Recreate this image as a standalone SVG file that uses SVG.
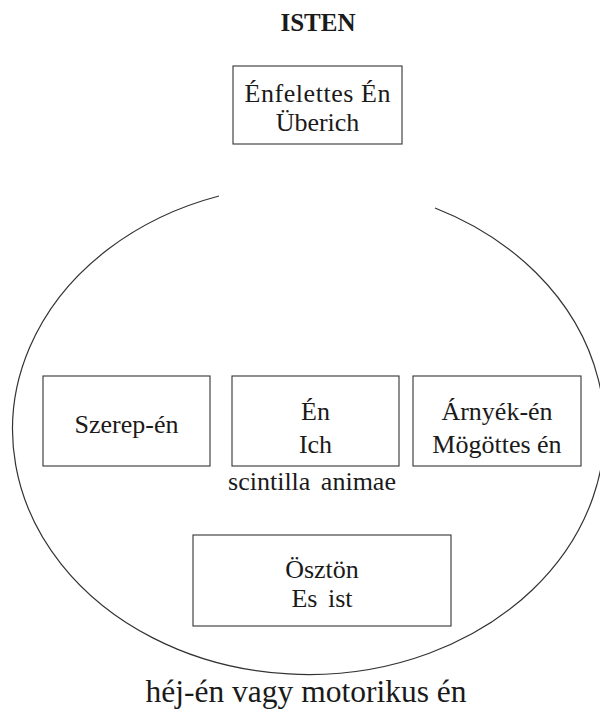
<svg xmlns="http://www.w3.org/2000/svg" width="600" height="716" viewBox="0 0 600 716">
<style>
text{font-family:"Liberation Serif","Times New Roman",serif;fill:#1a1a1a;text-anchor:middle}
.t{font-size:26px}
.box{fill:none;stroke:#333;stroke-width:1.1}
.title{font-size:25px;font-weight:bold}
.big{font-size:31.5px}
</style>
<rect width="600" height="716" fill="#fff"/>
<g id="isten"><text class="title" x="318" y="31">ISTEN</text></g>
<g id="ellipse"><path d="M219,196 A296,245 0 1,0 435,208" fill="none" stroke="#333" stroke-width="1.2"/></g>
<g id="uberich">
<rect class="box" x="233" y="66" width="169" height="78"/>
<text class="t" x="317.5" y="102" textLength="146">Énfelettes Én</text>
<text class="t" x="317.5" y="131">Überich</text>
</g>
<g id="szerep">
<rect class="box" x="43" y="376" width="167" height="90"/>
<text class="t" x="126.5" y="433">Szerep-én</text>
</g>
<g id="en">
<rect class="box" x="232" y="376" width="167" height="90"/>
<text class="t" x="315.5" y="420">Én</text>
<text class="t" x="315.5" y="452.5">Ich</text>
</g>
<g id="arnyek">
<rect class="box" x="413" y="376" width="168" height="90"/>
<text class="t" x="497" y="420">Árnyék-én</text>
<text class="t" x="497" y="452.5">Mögöttes én</text>
</g>
<g id="scintilla"><text class="t" x="312" y="490" word-spacing="4">scintilla animae</text></g>
<g id="oszton">
<rect class="box" x="193" y="535" width="258" height="91"/>
<text class="t" x="322" y="577.5">Ösztön</text>
<text class="t" x="322" y="606.5" word-spacing="4">Es ist</text>
</g>
<g id="hej"><text class="big" x="306" y="702">héj-én vagy motorikus én</text></g>
</svg>
